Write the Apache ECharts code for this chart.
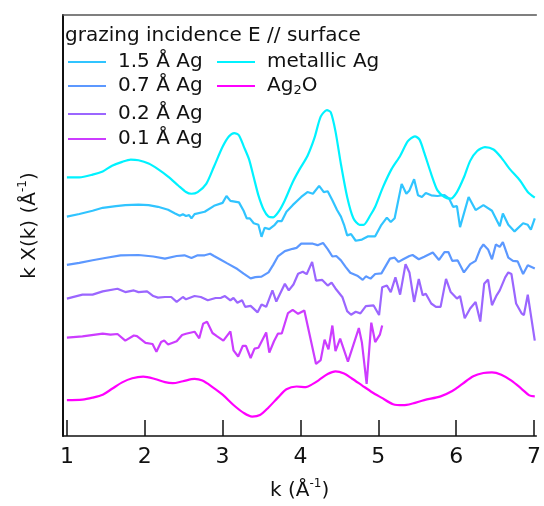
<!DOCTYPE html>
<html>
<head>
<meta charset="utf-8">
<title>EXAFS k-space, grazing incidence</title>
<script src="https://cdn.jsdelivr.net/npm/echarts@6/dist/echarts.min.js"></script>
<style>
  html, body { margin: 0; padding: 0; background: #fff; }
  #chart { width: 544px; height: 506px; }
</style>
</head>
<body>
<div id="chart"></div>
<script>
// k-weighted EXAFS spectra, vertically offset for display: [k (1/Å), k·χ(k) + offset]
const kTicks = [1, 2, 3, 4, 5, 6, 7];

const metallicAg = [[1.00,26.30],[1.16,26.30],[1.33,26.57],[1.46,26.90],[1.58,27.47],[1.71,27.87],[1.82,28.10],[1.92,28.03],[2.05,27.70],[2.17,27.13],[2.30,26.37],[2.43,25.47],[2.53,24.80],[2.60,24.63],[2.68,24.80],[2.79,25.63],[2.89,27.40],[3.00,29.40],[3.08,30.45],[3.15,30.80],[3.21,30.57],[3.27,29.47],[3.34,28.13],[3.40,26.30],[3.46,24.47],[3.53,22.97],[3.59,22.30],[3.65,22.23],[3.72,22.80],[3.80,23.97],[3.90,25.80],[3.99,27.13],[4.09,28.47],[4.18,30.30],[4.26,32.47],[4.34,33.13],[4.39,32.90],[4.45,30.97],[4.52,27.63],[4.60,24.30],[4.68,22.13],[4.76,21.47],[4.81,21.47],[4.90,22.47],[4.96,23.30],[5.06,25.30],[5.17,27.13],[5.28,28.47],[5.38,29.97],[5.47,30.47],[5.53,30.13],[5.59,28.80],[5.68,26.63],[5.76,24.97],[5.85,24.30],[5.93,24.13],[6.01,24.80],[6.10,26.30],[6.18,27.97],[6.27,28.97],[6.37,29.37],[6.48,29.13],[6.58,28.30],[6.69,27.13],[6.82,25.97],[6.92,24.80],[7.01,24.23]];

const ag15 = [[1.00,22.30],[1.16,22.57],[1.33,22.90],[1.46,23.20],[1.63,23.37],[1.75,23.47],[1.92,23.52],[2.05,23.47],[2.17,23.30],[2.30,23.00],[2.39,22.63],[2.45,22.40],[2.49,22.55],[2.53,22.37],[2.57,22.45],[2.60,22.13],[2.64,22.55],[2.77,22.80],[2.89,23.40],[3.00,23.70],[3.05,24.40],[3.10,23.90],[3.21,23.75],[3.27,22.90],[3.31,22.13],[3.35,22.13],[3.40,21.63],[3.46,21.47],[3.50,20.25],[3.54,21.17],[3.60,21.03],[3.67,21.47],[3.71,21.85],[3.76,21.85],[3.82,22.80],[3.90,23.47],[4.01,24.30],[4.09,24.80],[4.16,24.63],[4.24,25.43],[4.30,24.80],[4.35,24.88],[4.41,23.97],[4.47,22.97],[4.52,22.30],[4.56,21.47],[4.60,20.40],[4.65,20.52],[4.71,19.85],[4.79,19.97],[4.87,20.30],[4.96,20.30],[5.04,21.47],[5.11,22.20],[5.16,21.75],[5.21,22.13],[5.30,25.63],[5.36,24.63],[5.40,24.97],[5.46,26.10],[5.51,24.47],[5.56,24.30],[5.61,24.70],[5.68,24.47],[5.76,24.40],[5.85,24.50],[5.91,24.13],[5.96,23.30],[6.01,23.37],[6.05,21.23],[6.16,24.30],[6.25,22.97],[6.35,23.47],[6.46,22.90],[6.56,21.33],[6.60,22.63],[6.67,21.47],[6.75,20.80],[6.86,21.63],[6.92,21.47],[6.96,20.97],[7.01,22.13]];

const ag07 = [[1.00,17.40],[1.16,17.60],[1.33,17.87],[1.49,18.10],[1.69,18.37],[1.92,18.40],[2.11,18.25],[2.26,18.03],[2.41,18.30],[2.51,18.37],[2.60,18.10],[2.68,18.37],[2.77,18.37],[2.84,18.53],[2.89,18.30],[2.96,18.00],[3.06,17.55],[3.19,16.97],[3.27,16.50],[3.36,16.03],[3.42,16.15],[3.50,16.20],[3.59,16.63],[3.65,17.40],[3.71,18.25],[3.80,18.80],[3.90,19.03],[3.95,19.13],[4.01,19.55],[4.07,19.55],[4.16,19.55],[4.22,19.40],[4.29,19.63],[4.35,19.00],[4.41,18.25],[4.46,18.30],[4.52,17.85],[4.58,17.20],[4.64,16.60],[4.73,16.30],[4.80,15.87],[4.84,16.23],[4.90,16.00],[4.96,16.47],[5.04,16.53],[5.15,18.03],[5.21,18.13],[5.26,17.70],[5.32,17.97],[5.40,18.30],[5.44,18.40],[5.52,17.97],[5.59,18.23],[5.70,18.65],[5.78,17.90],[5.85,18.70],[5.90,18.70],[5.95,17.80],[6.02,17.85],[6.10,16.63],[6.18,17.47],[6.25,17.80],[6.31,19.03],[6.35,19.47],[6.41,18.97],[6.46,17.97],[6.51,19.47],[6.56,19.23],[6.60,19.70],[6.67,18.13],[6.73,17.80],[6.79,17.75],[6.86,16.47],[6.92,17.35],[7.01,17.03]];

const ag02 = [[1.00,13.97],[1.20,14.37],[1.33,14.37],[1.46,14.70],[1.65,14.97],[1.75,14.63],[1.86,14.80],[1.92,14.63],[2.03,14.70],[2.11,14.23],[2.17,14.07],[2.26,14.13],[2.34,14.13],[2.41,13.63],[2.49,14.13],[2.53,13.90],[2.64,14.23],[2.72,14.13],[2.81,13.80],[2.91,14.03],[2.98,14.05],[3.03,14.23],[3.10,13.80],[3.14,14.03],[3.19,13.55],[3.25,13.80],[3.29,13.13],[3.36,13.23],[3.45,12.57],[3.50,13.37],[3.56,13.13],[3.64,14.80],[3.69,13.67],[3.80,15.47],[3.85,14.80],[3.91,15.40],[3.97,16.50],[4.03,16.70],[4.08,16.45],[4.15,17.70],[4.20,15.80],[4.28,15.87],[4.35,15.30],[4.40,15.60],[4.45,15.00],[4.54,14.10],[4.60,12.70],[4.65,12.33],[4.71,12.63],[4.77,12.47],[4.84,13.20],[4.94,13.27],[5.01,12.30],[5.05,15.13],[5.11,15.30],[5.16,14.63],[5.22,16.13],[5.28,14.37],[5.35,17.47],[5.40,16.63],[5.46,13.63],[5.52,15.97],[5.57,14.30],[5.61,14.47],[5.68,13.47],[5.74,13.13],[5.80,13.13],[5.87,15.97],[5.93,14.63],[6.01,13.97],[6.05,14.23],[6.11,11.97],[6.18,12.97],[6.25,13.63],[6.31,11.63],[6.36,15.47],[6.41,15.90],[6.46,13.30],[6.52,14.30],[6.56,14.80],[6.63,16.13],[6.67,16.63],[6.71,16.47],[6.77,13.47],[6.84,12.47],[6.87,12.30],[6.92,14.37],[7.01,9.70]];

const ag01 = [[1.00,10.00],[1.20,10.13],[1.46,10.40],[1.56,10.30],[1.65,10.37],[1.75,9.70],[1.86,10.22],[1.90,10.15],[2.01,9.47],[2.10,9.35],[2.15,8.57],[2.21,9.55],[2.25,9.70],[2.30,9.30],[2.41,9.63],[2.48,10.27],[2.53,10.40],[2.64,10.60],[2.70,9.93],[2.75,11.42],[2.80,11.63],[2.87,10.47],[2.93,10.13],[3.01,9.70],[3.10,10.63],[3.14,8.70],[3.20,8.08],[3.26,9.17],[3.30,9.17],[3.36,7.93],[3.41,8.88],[3.46,8.97],[3.56,10.52],[3.60,8.47],[3.66,9.63],[3.71,10.40],[3.76,10.42],[3.84,12.50],[3.90,12.83],[3.97,12.42],[4.05,12.75],[4.20,7.33],[4.26,7.72],[4.31,9.80],[4.36,8.80],[4.41,11.23],[4.45,8.63],[4.51,9.90],[4.61,7.57],[4.75,10.97],[4.79,9.47],[4.85,5.30],[4.91,11.52],[4.96,9.55],[5.02,10.30],[5.05,11.23]];

const ag2o = [[1.00,3.65],[1.20,3.70],[1.33,3.90],[1.46,4.20],[1.58,4.80],[1.71,5.45],[1.84,5.87],[1.98,6.03],[2.13,5.80],[2.26,5.47],[2.36,5.37],[2.49,5.57],[2.64,5.80],[2.74,5.63],[2.87,4.97],[3.00,4.20],[3.14,3.15],[3.27,2.35],[3.38,1.97],[3.48,2.13],[3.59,2.90],[3.71,3.90],[3.82,4.75],[3.95,5.03],[4.07,4.97],[4.16,5.30],[4.24,5.70],[4.35,6.30],[4.45,6.57],[4.56,6.35],[4.66,5.85],[4.79,5.15],[4.92,4.45],[5.04,3.90],[5.19,3.23],[5.32,3.13],[5.44,3.30],[5.59,3.65],[5.80,4.03],[5.95,4.57],[6.08,5.30],[6.22,6.07],[6.35,6.40],[6.46,6.47],[6.58,6.23],[6.71,5.63],[6.84,4.80],[6.94,4.13],[7.01,4.03]];

const FONT = 'DejaVu Sans';

const seriesDefs = [
  { name: '1.5 Å Ag',    data: ag15,       color: '#30c4ff', smooth: false },
  { name: '0.7 Å Ag',    data: ag07,       color: '#5c98ff', smooth: false },
  { name: '0.2 Å Ag',    data: ag02,       color: '#9b66ff', smooth: false },
  { name: '0.1 Å Ag',    data: ag01,       color: '#cc3cff', smooth: false },
  { name: 'metallic Ag', data: metallicAg, color: '#00f2ff', smooth: 0.25 },
  { name: 'Ag2O',        data: ag2o,       color: '#ff00ff', smooth: 0.3 }
];

const richText = {
  n:   { fontFamily: FONT, fontSize: 20, color: '#111' },
  sub: { fontFamily: FONT, fontSize: 13, color: '#111', padding: [9, 0, 0, 0] },
  sup: { fontFamily: FONT, fontSize: 12, color: '#111', padding: [0, 0, 14, 0] }
};

function legendAt(name, left, top) {
  return {
    data: [name],
    left: left, top: top,
    orient: 'vertical',
    padding: 0,
    icon: 'rect',
    itemWidth: 38, itemHeight: 2.2,
    selectedMode: false,
    formatter: n => n === 'Ag2O' ? '{n|Ag}{sub|2}{n|O}' : '{n|' + n + '}',
    textStyle: { fontFamily: FONT, fontSize: 20, color: '#111', padding: [0, 0, 0, 7], rich: richText }
  };
}

const chart = echarts.init(document.getElementById('chart'), null, { renderer: 'canvas' });

chart.setOption({
  animation: false,
  backgroundColor: '#fff',
  title: {
    text: 'grazing incidence E // surface',
    left: 65, top: 26, padding: 0,
    textStyle: { fontFamily: FONT, fontSize: 20, fontWeight: 'normal', color: '#111' }
  },
  legend: [
    legendAt('1.5 Å Ag', 68, 52),
    legendAt('0.7 Å Ag', 68, 76),
    legendAt('0.2 Å Ag', 68, 104),
    legendAt('0.1 Å Ag', 68, 129),
    legendAt('metallic Ag', 217, 52),
    legendAt('Ag2O', 217, 76)
  ],
  grid: { left: 63, right: 0, top: 15, bottom: 63, containLabel: false },
  xAxis: [{
    type: 'value',
    position: 'bottom',
    min: 0.95, max: 7.03,
    name: '{n|k (Å}{sup|-1}{n|)}',
    nameLocation: 'middle',
    nameGap: 42,
    nameTextStyle: { rich: richText },
    axisLine: { show: true, lineStyle: { color: '#111', width: 1.5 } },
    axisTick: { show: true, inside: true, length: 16, customValues: kTicks, lineStyle: { color: '#111', width: 1.5 } },
    axisLabel: { customValues: kTicks, fontFamily: FONT, fontSize: 22, color: '#111', margin: 10 },
    splitLine: { show: false }
  }, {
    type: 'value',
    position: 'top',
    min: 0.95, max: 7.03,
    axisLine: { show: true, lineStyle: { color: '#555', width: 1.5 } },
    axisTick: { show: false },
    axisLabel: { show: false },
    splitLine: { show: false }
  }],
  yAxis: {
    type: 'value',
    min: 0, max: 42.8,
    name: '{n|k X(k) (Å}{sup|-1}{n|)}',
    nameLocation: 'middle',
    nameGap: 20,
    nameTextStyle: { rich: richText },
    axisLine: { show: true, lineStyle: { color: '#111', width: 2 } },
    axisTick: { show: false },
    axisLabel: { show: false },
    splitLine: { show: false }
  },
  series: seriesDefs.map(s => ({
    name: s.name,
    type: 'line',
    xAxisIndex: 0,
    data: s.data,
    smooth: s.smooth,
    showSymbol: false,
    symbol: 'none',
    color: s.color,
    lineStyle: { color: s.color, width: 2.2 }
  }))
});
</script>
</body>
</html>
